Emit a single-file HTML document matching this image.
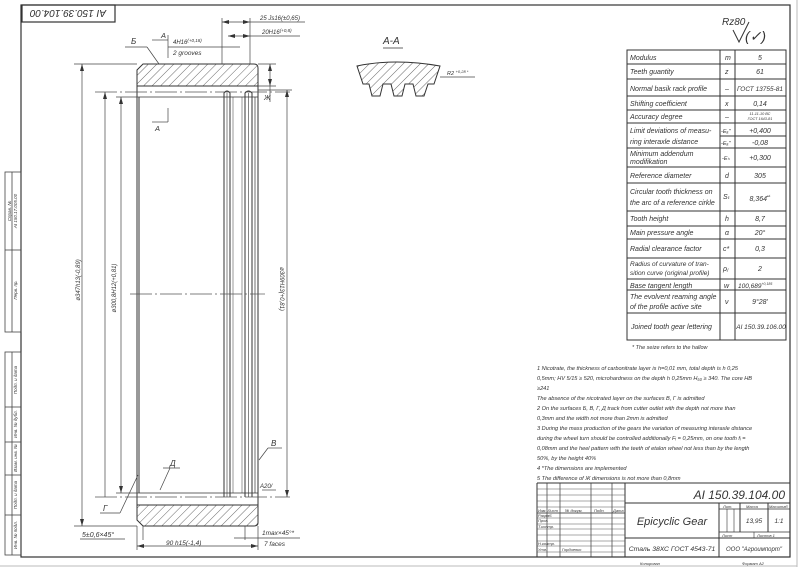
<!DOCTYPE html>
<html><head><meta charset="utf-8"><style>
html,body{margin:0;padding:0;background:#fff;}
svg{display:block;}
text{font-family:"Liberation Sans",sans-serif;font-style:italic;fill:#333;}
</style></head><body>
<svg width="802" height="575" viewBox="0 0 802 575" xmlns="http://www.w3.org/2000/svg">
<defs>
<pattern id="h" width="6" height="6" patternUnits="userSpaceOnUse" patternTransform="rotate(45)">
<line x1="0" y1="0" x2="0" y2="6" stroke="#444" stroke-width="0.8"/>
</pattern>
</defs>
<rect width="802" height="575" fill="#fff"/>
<line x1="797" y1="0" x2="797" y2="567" stroke="#bbb" stroke-width="1"/>
<line x1="0" y1="566" x2="797" y2="566" stroke="#bbb" stroke-width="1"/>
<g stroke="#333" stroke-width="1.2" fill="none">
<rect x="21" y="5" width="769" height="552"/>
<rect x="22" y="5" width="93" height="17"/>
</g>
<text x="68" y="18" font-size="10" text-anchor="middle" transform="rotate(180 68 14)">AI 150.39.104.00</text>

<g stroke="#444" stroke-width="0.8" fill="none">
<rect x="5" y="172" width="16" height="160"/><line x1="12" y1="172" x2="12" y2="332"/><line x1="5" y1="250" x2="21" y2="250"/>
<rect x="5" y="352" width="16" height="203"/><line x1="12" y1="352" x2="12" y2="555"/>
<line x1="5" y1="407" x2="21" y2="407"/><line x1="5" y1="442" x2="21" y2="442"/><line x1="5" y1="475" x2="21" y2="475"/><line x1="5" y1="515" x2="21" y2="515"/>
</g>
<g font-size="4.5" fill="#555">
<text transform="translate(11,211) rotate(-90)" text-anchor="middle">Справ. №</text>
<text transform="translate(17,211) rotate(-90)" text-anchor="middle">AI 150.17.005.00</text>
<text transform="translate(17,290) rotate(-90)" text-anchor="middle">Перв. пр.</text>
<text transform="translate(17,380) rotate(-90)" text-anchor="middle">Подп. и дата</text>
<text transform="translate(17,424) rotate(-90)" text-anchor="middle">Инв. № дубл.</text>
<text transform="translate(17,458) rotate(-90)" text-anchor="middle">Взам. инв. №</text>
<text transform="translate(17,495) rotate(-90)" text-anchor="middle">Подп. и дата</text>
<text transform="translate(17,535) rotate(-90)" text-anchor="middle">Инв. № подл.</text>
</g>

<g stroke="#333" fill="none" stroke-width="1">
<path d="M137,70 L143,64 L254,64 Q258,64 258,68 L258,86 L137,86 Z" fill="url(#h)"/>
<path d="M137,505 L258,505 L258,523 Q258,526 254,526 L143,526 L137,520 Z" fill="url(#h)"/>
<line x1="137" y1="86" x2="137" y2="505"/>
<line x1="139" y1="97" x2="139" y2="493"/>
<line x1="139" y1="97" x2="258" y2="97" stroke-width="0.8"/>
<line x1="139" y1="493" x2="258" y2="493" stroke-width="0.8"/>
<line x1="258" y1="86" x2="258" y2="505"/>
<line x1="255" y1="97" x2="255" y2="493" stroke-width="0.7"/>
<path d="M224,497 L224,93 Q227,89 230,93 L230,497" />
<line x1="227" y1="93" x2="227" y2="497" stroke-width="0.6"/>
<path d="M245,497 L245,93 Q248.5,89 252,93 L252,497" />
<line x1="248.5" y1="93" x2="248.5" y2="497" stroke-width="0.6"/>
<line x1="233" y1="97" x2="233" y2="493" stroke-width="0.5"/>
<line x1="242" y1="97" x2="242" y2="493" stroke-width="0.5"/>
</g>
<g stroke="#555" stroke-width="0.7" stroke-dasharray="22,3,2,3">
<line x1="95" y1="92" x2="290" y2="92"/>
<line x1="95" y1="497" x2="290" y2="497"/>
<line x1="130" y1="294" x2="265" y2="294"/>
</g>
<g stroke="#444" stroke-width="0.7" fill="none">
<line x1="74" y1="64" x2="137" y2="64"/>
<line x1="74" y1="526" x2="137" y2="526"/>
<line x1="82" y1="64" x2="82" y2="526"/>
<line x1="105" y1="92" x2="105" y2="497"/>
<line x1="116" y1="97" x2="139" y2="97"/>
<line x1="116" y1="493" x2="139" y2="493"/>
<line x1="121" y1="97" x2="121" y2="493"/>
<line x1="258" y1="90" x2="292" y2="90"/>
<line x1="287" y1="90" x2="287" y2="497"/>
<line x1="258" y1="64" x2="276" y2="64"/>
<line x1="258" y1="86" x2="276" y2="86"/>
<line x1="270" y1="64" x2="270" y2="102"/>
<line x1="222" y1="18" x2="222" y2="64"/>
<line x1="250" y1="18" x2="250" y2="64"/>
<line x1="222" y1="22" x2="305" y2="22"/>
<line x1="228" y1="36" x2="300" y2="36"/>
<line x1="168" y1="35" x2="168" y2="58"/>
<line x1="168" y1="47" x2="240" y2="47"/>
<line x1="152" y1="40" x2="168" y2="40"/>
<line x1="125" y1="47" x2="147" y2="47"/>
<line x1="147" y1="47" x2="159" y2="64"/>
<line x1="152" y1="122" x2="168" y2="122"/>
<line x1="168" y1="108" x2="168" y2="122"/>
<line x1="137" y1="526" x2="137" y2="550"/>
<line x1="258" y1="526" x2="258" y2="550"/>
<line x1="137" y1="546" x2="258" y2="546"/>
<line x1="80" y1="539" x2="125" y2="539"/>
<line x1="143" y1="526" x2="143" y2="540"/>
<line x1="245" y1="526" x2="245" y2="540"/>
<line x1="234" y1="538" x2="300" y2="538"/>
<line x1="100" y1="513" x2="120" y2="513"/>
<line x1="120" y1="513" x2="138" y2="475"/>
<line x1="163" y1="468" x2="180" y2="468"/>
<line x1="170" y1="468" x2="160" y2="490"/>
<line x1="268" y1="448" x2="282" y2="448"/>
<line x1="268" y1="448" x2="259" y2="460"/>
<line x1="262" y1="490" x2="276" y2="490"/>
</g>
<g fill="#333">
<path d="M82,64 l-2,7 h4z"/><path d="M82,526 l-2,-7 h4z"/>
<path d="M105,92 l-2,7 h4z"/><path d="M121,97 l-2,7 h4z"/><path d="M121,493 l-2,-7 h4z"/>
<path d="M287,90 l-2,7 h4z"/><path d="M287,497 l-2,-7 h4z"/>
<path d="M222,22 l7,-2 v4z"/><path d="M250,22 l-7,-2 v4z"/>
<path d="M228,36 l7,-2 v4z"/><path d="M250,36 l-7,-2 v4z"/>
<path d="M137,546 l7,-2 v4z"/><path d="M258,546 l-7,-2 v4z"/>
<path d="M270,64 l-2,7 h4z"/><path d="M270,86 l-2,-7 h4z"/>
</g>
<g font-size="7.5">
<text x="161" y="38" font-style="normal">A</text>
<text x="155" y="131" font-style="normal">A</text>
<text x="131" y="44" font-style="normal" font-size="8">Б</text>
<text x="173" y="44" font-size="6">4H16<tspan font-size="4.5" dy="-2">(+0,18)</tspan></text>
<text x="173" y="55" font-size="6.5" fill="#555">2 grooves</text>
<text x="260" y="20" font-size="6">25 Js16(±0,65)</text>
<text x="262" y="34" font-size="6">20H16<tspan font-size="4.5" dy="-2">(+0,8)</tspan></text>
<text x="264" y="100" font-size="7">Ж</text>
<text transform="translate(80,280) rotate(-90)" font-size="6" text-anchor="middle">ø347h13(-0,89)</text>
<text transform="translate(116,288) rotate(-90)" font-size="6" text-anchor="middle">ø300,8H12(+0,81)</text>
<text transform="translate(280,289) rotate(90)" font-size="6" text-anchor="middle">ø309H13(+0,81)</text>
<text x="82" y="537" font-size="7">5±0,6×45°</text>
<text x="166" y="545" font-size="6.5">90 h15(-1,4)</text>
<text x="262" y="535" font-size="6.5">1max×45°*</text>
<text x="264" y="546" font-size="6.5" fill="#555">7 faces</text>
<text x="103" y="511" font-size="8" font-style="normal">Г</text>
<text x="170" y="466" font-size="8">Д</text>
<text x="271" y="446" font-size="8">В</text>
<text x="260" y="488" font-size="6">A20/</text>
</g>

<text x="383" y="44" font-size="10" font-style="normal">A-A</text>
<line x1="383" y1="48" x2="403" y2="48" stroke="#333" stroke-width="0.8"/>
<path d="M357,66 Q395,58 440,66 L434,84 L428,84 L424,96 L416,96 L413,84 L405,84 L402,96 L394,96 L391,84 L383,84 L380,96 L372,96 L369,84 L363,84 Z" fill="url(#h)" stroke="#333" stroke-width="1"/>
<line x1="440" y1="77" x2="475" y2="77" stroke="#444" stroke-width="0.7"/>
<text x="447" y="75" font-size="5.5">R2 <tspan font-size="4" dy="-2">+0,28 *</tspan></text>

<text x="722" y="25" font-size="10">Rz80</text>
<path d="M733,30 l6,12 l10,-20" stroke="#333" stroke-width="1" fill="none"/>
<text x="745" y="41" font-size="14" fill="#aaa" font-style="normal">(✓)</text>

<g stroke="#333" stroke-width="1" fill="none">
<rect x="627" y="50" width="159" height="290"/>
<line x1="720" y1="50" x2="720" y2="340"/>
<line x1="735" y1="50" x2="735" y2="340"/>
<line x1="627" y1="64" x2="786" y2="64"/>
<line x1="627" y1="79" x2="786" y2="79"/>
<line x1="627" y1="96" x2="786" y2="96"/>
<line x1="627" y1="110" x2="786" y2="110"/>
<line x1="627" y1="123" x2="786" y2="123"/>
<line x1="720" y1="136" x2="786" y2="136"/>
<line x1="627" y1="148" x2="786" y2="148"/>
<line x1="627" y1="167" x2="786" y2="167"/>
<line x1="627" y1="183" x2="786" y2="183"/>
<line x1="627" y1="211" x2="786" y2="211"/>
<line x1="627" y1="226" x2="786" y2="226"/>
<line x1="627" y1="239" x2="786" y2="239"/>
<line x1="627" y1="258" x2="786" y2="258"/>
<line x1="627" y1="279" x2="786" y2="279"/>
<line x1="627" y1="290" x2="786" y2="290"/>
<line x1="627" y1="313" x2="786" y2="313"/>
</g>
<g font-size="7">
<text x="630" y="60">Modulus</text><text x="725" y="60">m</text><text x="760" y="60" text-anchor="middle">5</text>
<text x="630" y="74">Teeth guantity</text><text x="725" y="74">z</text><text x="760" y="74" text-anchor="middle">61</text>
<text x="630" y="91">Normal basik rack profile</text><text x="725" y="91">–</text><text x="760" y="91" text-anchor="middle" font-size="6.5">ГОСТ 13755-81</text>
<text x="630" y="106">Shifting coefficient</text><text x="725" y="106">x</text><text x="760" y="106" text-anchor="middle">0,14</text>
<text x="630" y="119">Accuracy degree</text><text x="725" y="119">–</text>
<text x="760" y="115" text-anchor="middle" font-size="3.8">11-11-10 ВС</text><text x="760" y="120" text-anchor="middle" font-size="3.8">ГОСТ 1643-81</text>
<text x="630" y="133">Limit deviations of measu-</text><text x="630" y="144">ring interaxle distance</text>
<text x="721" y="133" font-size="5.5">-Eₐ"</text><text x="721" y="145" font-size="5.5">-Eₐ"</text>
<text x="760" y="133" text-anchor="middle">+0,400</text><text x="760" y="145" text-anchor="middle">-0,08</text>
<text x="630" y="156">Minimum addendum</text><text x="630" y="164">modifikation</text>
<text x="722" y="160" font-size="5.5">-Eₕ</text><text x="760" y="160" text-anchor="middle">+0,300</text>
<text x="630" y="178">Reference diameter</text><text x="725" y="178">d</text><text x="760" y="178" text-anchor="middle">305</text>
<text x="630" y="194">Circular tooth thickness on</text><text x="630" y="205">the arc of a reference cirkle</text>
<text x="723" y="199">Sₜ</text><text x="760" y="201" text-anchor="middle">8,364<tspan font-size="5" dy="-3">•¹</tspan></text>
<text x="630" y="221">Tooth height</text><text x="725" y="221">h</text><text x="760" y="221" text-anchor="middle">8,7</text>
<text x="630" y="235">Main pressure angle</text><text x="725" y="235">α</text><text x="760" y="235" text-anchor="middle">20°</text>
<text x="630" y="251">Radial clearance factor</text><text x="723" y="251">c*</text><text x="760" y="251" text-anchor="middle">0,3</text>
<text x="630" y="266" font-size="6.5">Radius of curvature of tran-</text><text x="630" y="275" font-size="6.5">sition curve (original profile)</text>
<text x="723" y="271">ρⱼ</text><text x="760" y="271" text-anchor="middle">2</text>
<text x="630" y="288">Base tangent length</text><text x="724" y="288">w</text><text x="738" y="288" font-size="6.5">100,689<tspan font-size="3.5" dy="-3">+0,185</tspan></text>
<text x="630" y="299">The evolvent reaming angle</text><text x="630" y="309">of the profile active site</text>
<text x="725" y="304">ν</text><text x="760" y="304" text-anchor="middle">9°28'</text>
<text x="631" y="329">Joined tooth gear lettering</text><text x="761" y="329" text-anchor="middle" font-size="6.5">AI 150.39.106.00</text>
</g>
<text x="632" y="349" font-size="5.5" fill="#555">* The seize refers to the hallow</text>

<g font-size="5.6" fill="#444">
<text x="537" y="370">1  Nicotrate, the thickness of carbonitrate layer is h=0,01 mm, total depth is h 0,25</text>
<text x="537" y="380">0,5mm; HV 5/15 ≥ 520, microhardness on the depth h 0,25mm H₅₀ ≥ 340. The core HB</text>
<text x="537" y="390">≥241</text>
<text x="537" y="400">The absence of the nicotrated layer on the surfaces В, Г is admitted</text>
<text x="537" y="410">2  On the surfaces Б, В, Г, Д track from cutter outlet with the depth not more than</text>
<text x="537" y="420">0,3mm and the width not more than 2mm is admitted</text>
<text x="537" y="430">3  During the mass production of the gears the variation of measuring interaxle distance</text>
<text x="537" y="440">during the wheel turn should be controlled additionally Fᵢ = 0,25mm, on one tooth fᵢ =</text>
<text x="537" y="450">0,08mm and the heel pattern with the teeth of etalon wheel not less than by the length</text>
<text x="537" y="460">50%, by the height  40%</text>
<text x="537" y="470">4   *The dimensions are implemented</text>
<text x="537" y="480">5  The difference of Ж dimensions is not more than 0,8mm</text>
</g>

<g stroke="#333" stroke-width="1" fill="none">
<line x1="537" y1="483" x2="790" y2="483"/>
<line x1="537" y1="483" x2="537" y2="557"/>
<line x1="625" y1="483" x2="625" y2="557"/>
<line x1="547" y1="483" x2="547" y2="557" stroke-width="0.7"/>
<line x1="560" y1="483" x2="560" y2="557" stroke-width="0.7"/>
<line x1="591" y1="483" x2="591" y2="557" stroke-width="0.7"/>
<line x1="612" y1="483" x2="612" y2="557" stroke-width="0.7"/>
<line x1="625" y1="503" x2="790" y2="503"/>
<line x1="625" y1="538" x2="790" y2="538"/>
<line x1="719" y1="503" x2="719" y2="557"/>
<line x1="719" y1="509" x2="790" y2="509" stroke-width="0.7"/>
<line x1="719" y1="532" x2="790" y2="532" stroke-width="0.7"/>
<line x1="727" y1="509" x2="727" y2="532" stroke-width="0.6"/>
<line x1="734" y1="509" x2="734" y2="532" stroke-width="0.6"/>
<line x1="740" y1="503" x2="740" y2="532"/>
<line x1="768" y1="503" x2="768" y2="532"/>
<line x1="754" y1="532" x2="754" y2="538" stroke-width="0.6"/>
</g>
<g stroke="#555" stroke-width="0.5">
<line x1="537" y1="489" x2="625" y2="489"/><line x1="537" y1="495" x2="625" y2="495"/><line x1="537" y1="501" x2="625" y2="501"/>
<line x1="537" y1="507" x2="625" y2="507"/><line x1="537" y1="513" x2="625" y2="513" stroke-width="0.9"/><line x1="537" y1="518" x2="625" y2="518"/>
<line x1="537" y1="524" x2="625" y2="524"/><line x1="537" y1="529" x2="625" y2="529"/><line x1="537" y1="535" x2="625" y2="535"/>
<line x1="537" y1="541" x2="625" y2="541"/><line x1="537" y1="546" x2="625" y2="546"/><line x1="537" y1="552" x2="625" y2="552"/>
</g>
<g font-size="4" fill="#444">
<text x="538" y="512">Изм. Лист</text><text x="565" y="512">№ докум.</text><text x="594" y="512">Подп.</text><text x="613" y="512">Дата</text>
<text x="538" y="517">Разраб.</text><text x="538" y="522">Пров.</text><text x="538" y="528">Т.контр.</text>
<text x="538" y="545">Н.контр.</text><text x="538" y="551">Утв.</text><text x="562" y="551">Гордиенко</text>
<text x="723" y="508">Лит.</text><text x="746" y="508">Масса</text><text x="769" y="508">Масштаб</text>
<text x="722" y="537">Лист</text><text x="757" y="537">Листов  1</text>
<text x="640" y="565" fill="#777">Копировал</text><text x="742" y="565" fill="#777">Формат  A2</text>
</g>
<text x="785" y="499" font-size="12" text-anchor="end">AI 150.39.104.00</text>
<text x="672" y="525" font-size="11" text-anchor="middle">Epicyclic Gear</text>
<text x="754" y="523" font-size="6.5" text-anchor="middle">13,95</text>
<text x="779" y="523" font-size="6.5" text-anchor="middle">1:1</text>
<text x="672" y="551" font-size="6.8" text-anchor="middle">Сталь 38ХС ГОСТ 4543-71</text>
<text x="754" y="551" font-size="6" text-anchor="middle">ООО "Агроимпорт"</text>
</svg>
</body></html>
